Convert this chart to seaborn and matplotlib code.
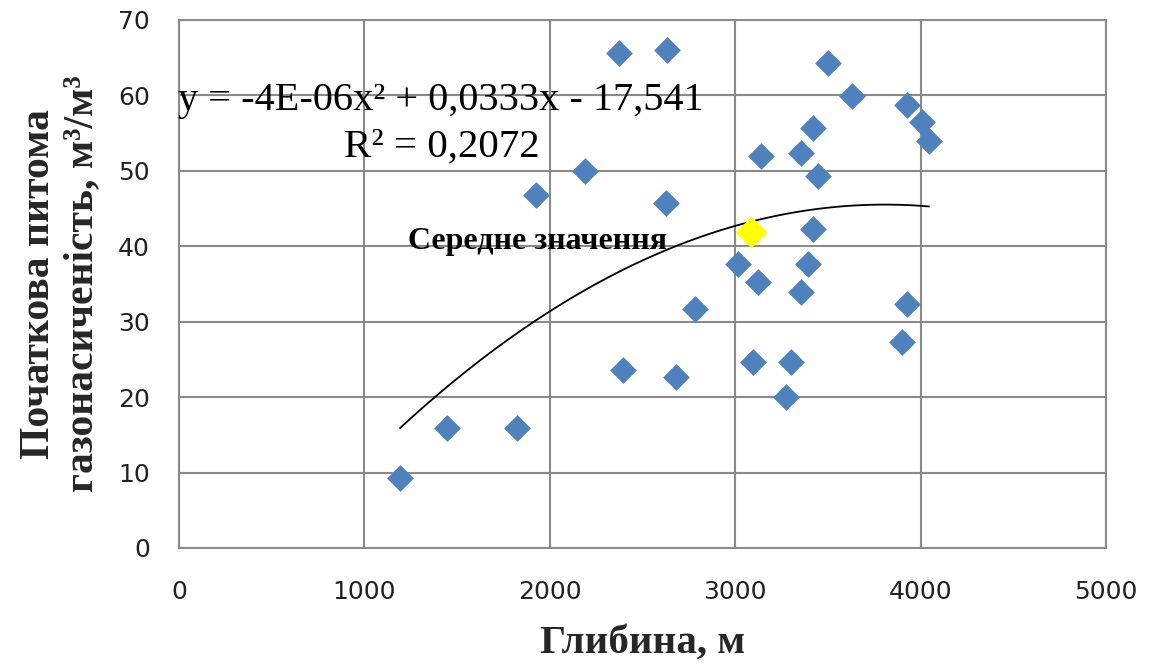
import numpy as np
import pandas as pd
import matplotlib
matplotlib.use("Agg")
import matplotlib.pyplot as plt
import seaborn as sns

# Depth of the sampled intervals, m
depth = [1192, 1446, 1823, 1926, 2190, 2373, 2632, 2395, 2681, 2627,
         2783, 3015, 3123, 3096, 3301, 3274, 3393, 3355, 3420, 3927,
         3900, 3501, 3630, 3927, 4008, 4045, 3420, 3139, 3355, 3447]
# Initial specific gas content, m3/m3
gas = [9.3, 15.9, 15.9, 46.8, 50.0, 65.6, 66.0, 23.6, 22.7, 45.7,
       31.7, 37.7, 35.3, 24.7, 24.7, 20.0, 37.7, 33.9, 42.3, 32.3,
       27.3, 64.3, 59.9, 58.7, 56.5, 54.0, 55.7, 52.0, 52.4, 49.3]

# Average point
mean_depth = [3085]
mean_gas = [41.9]

x_ticks = [0, 1000, 2000, 3000, 4000, 5000]
y_ticks = [0, 10, 20, 30, 40, 50, 60, 70]

equation_text = "y = -4E-06x² + 0,0333x - 17,541"
r2_text = "R² = 0,2072"
mean_label = "Середне значення"
x_label = "Глибина, м"
y_label = "Початкова питома\nгазонасиченість, м³/м³"

df = pd.DataFrame({"depth": depth, "gas": gas})
df_mean = pd.DataFrame({"depth": mean_depth, "gas": mean_gas})

sns.set_style("white")
plt.rcParams["font.family"] = ["DejaVu Sans"]

fig = plt.figure(figsize=(11.49, 6.64), dpi=100)
ax = fig.add_axes([0.1558, 0.1747, 0.8068, 0.7952])

grid_col = "#8a8a8a"

sns.scatterplot(data=df, x="depth", y="gas", marker="D", s=185,
                color="#4F81BD", linewidth=0, ax=ax, zorder=3)
sns.regplot(data=df, x="depth", y="gas", order=2, scatter=False, ci=None,
            color="black", line_kws={"linewidth": 1.3, "zorder": 4}, ax=ax)
sns.scatterplot(data=df_mean, x="depth", y="gas", marker="D", s=260,
                color="#FFFF00", linewidth=0, ax=ax, zorder=5)

ax.set_xlim(0, 5000)
ax.set_ylim(0, 70)
ax.set_xticks(x_ticks)
ax.set_yticks(y_ticks)
ax.grid(True, color=grid_col, linewidth=1.5)
ax.set_axisbelow(True)
for side in ["left", "bottom", "top", "right"]:
    ax.spines[side].set_color(grid_col)
    ax.spines[side].set_linewidth(1.5)
ax.tick_params(axis="both", which="major", direction="out", length=8,
               width=1.5, color=grid_col, labelsize=18, labelcolor="#222222")
ax.tick_params(axis="y", pad=13)
ax.tick_params(axis="x", pad=15)

serif = ["Liberation Serif", "DejaVu Serif"]
ax.set_xlabel(x_label, family=serif, fontweight="bold", fontsize=29.5,
              labelpad=15)
ax.set_ylabel(y_label, family=serif, fontweight="bold", fontsize=30,
              labelpad=12, linespacing=1.2)

ax.text(-8, 59.3, equation_text, family=serif, fontsize=29,
        ha="left", va="center", color="black", zorder=6)
ax.text(890, 53.2, r2_text, family=serif, fontsize=29.5,
        ha="left", va="center", color="black", zorder=6)
ax.text(1235, 40.6, mean_label, family=serif, fontweight="bold",
        fontsize=23, ha="left", va="center", color="black", zorder=6)

fig.savefig("out.png", dpi=100)
